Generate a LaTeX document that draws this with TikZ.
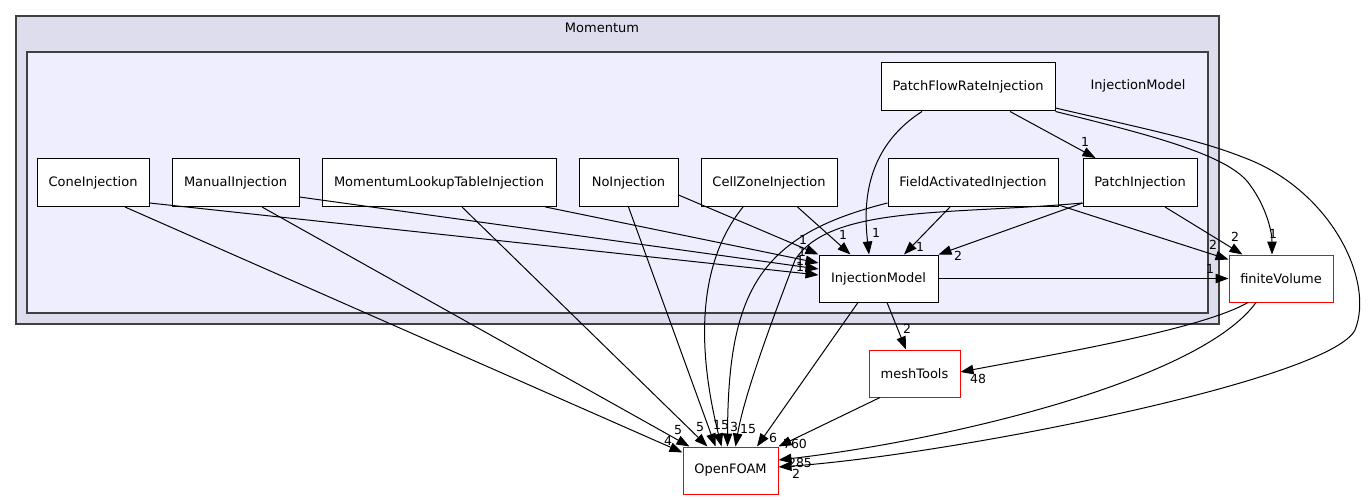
\documentclass[tikz,border=0pt]{standalone}
\usepackage{fontspec}
\setmainfont{DejaVu Sans}
\usetikzlibrary{arrows.meta, positioning, calc}
\definecolor{clusterOuter}{HTML}{DDDDEE}
\definecolor{clusterInner}{HTML}{EEEEFF}
\definecolor{clusterLine}{HTML}{404040}

\begin{document}
\begin{tikzpicture}[
  x=1pt, y=-1pt,
  every node/.style={font=\fontsize{13}{15}\selectfont},
  dirbox/.style={draw=black, line width=1pt, fill=white,
    minimum height=48pt, inner sep=0pt},
  extbox/.style={draw=red, line width=1pt, fill=white,
    minimum height=47pt, inner sep=0pt},
  dep/.style={-{Triangle[length=13pt, width=9.5pt]}, line width=1pt, black},
  num/.style={font=\fontsize{12.5}{14}\selectfont, inner sep=0pt},
]
  \useasboundingbox (0,0) rectangle (1368,500);

  % clusters
  \draw[draw=clusterLine, line width=1.3pt, fill=clusterOuter] (16,16) rectangle (1219,324);
  \draw[draw=clusterLine, line width=1.3pt, fill=clusterInner] (27,52) rectangle (1208,313);
  \node (momentum) at (602,28) {Momentum};
  \node (injdir) at (1138,86) {InjectionModel};

  % directories
  \node[dirbox, minimum width=174pt] (pfr)      at (968,87)    {PatchFlowRateInjection};
  \node[dirbox, minimum width=112pt] (cone)     at (93,182.5)  {ConeInjection};
  \node[dirbox, minimum width=127pt] (manual)   at (235.5,182.5) {ManualInjection};
  \node[dirbox, minimum width=234pt] (mlt)      at (439,182.5) {MomentumLookupTableInjection};
  \node[dirbox, minimum width=99pt]  (noinj)    at (628.5,182.5) {NoInjection};
  \node[dirbox, minimum width=136pt] (cellz)    at (769,182.5) {CellZoneInjection};
  \node[dirbox, minimum width=170pt] (fieldact) at (973,182.5) {FieldActivatedInjection};
  \node[dirbox, minimum width=114pt] (patchinj) at (1140,182.5) {PatchInjection};
  \node[dirbox, minimum width=119pt, minimum height=47pt] (injm) at (878.5,278.5) {InjectionModel};

  \node[extbox, minimum width=104pt] (fv)    at (1281,278.5)  {finiteVolume};
  \node[extbox, minimum width=91pt]  (mesh)  at (914.5,373.5) {meshTools};
  \node[extbox, minimum width=95pt]  (ofoam) at (730.5,470.5) {OpenFOAM};

  % into InjectionModel
  \draw[dep] ([yshift=-20.5pt]cone.east) -- ([yshift=3.5pt]injm.west);
  \draw[dep] ([yshift=-14.5pt]manual.east) -- ([yshift=9.5pt]injm.west);
  \draw[dep] ([xshift=-11pt]mlt.south east) -- ([yshift=15.5pt]injm.west);
  \draw[dep] ([yshift=-12.5pt]noinj.east) -- (injm.north west);
  \draw[dep] ([xshift=-40pt]cellz.south east) -- ([xshift=32pt]injm.north west);
  \draw[dep] ([xshift=-46pt]pfr.south) .. controls (862,150) and (864,210) .. ([xshift=-9.5pt]injm.north);
  \draw[dep] ([xshift=-23pt]fieldact.south) -- ([xshift=25.5pt]injm.north);
  \draw[dep] ([yshift=4pt]patchinj.south west) -- (injm.north east);
  \node[num] (lc1) at (800,267) {1};
  \node[num] (lm1) at (800,261) {1};
  \node[num] (lt1) at (802,252) {1};
  \node[num] (ln1) at (803,240) {1};
  \node[num] (lz1) at (843,235) {1};
  \node[num] (lp1) at (876,233) {1};
  \node[num] (lf1) at (920,247) {1};
  \node[num] (li2) at (958,256) {2};

  % PatchFlowRateInjection
  \draw[dep] ([xshift=42pt]pfr.south) -- ([xshift=13pt]patchinj.north west);
  \draw[dep] (pfr.south east) .. controls (1150,135) and (1230,155) .. (1250,185)
    .. controls (1265,205) and (1272,230) .. ([xshift=-9pt]fv.north);
  \draw[dep] ([yshift=-21pt]pfr.east) .. controls (1150,130) and (1200,140) .. (1245,158)
    .. controls (1330,190) and (1375,280) .. (1355,330)
    .. controls (1330,380) and (950,455) .. ([yshift=3.5pt]ofoam.east);
  \node[num] (lpp) at (1085,142) {1};
  \node[num] (lpf) at (1273,234) {1};

  % to finiteVolume and meshTools
  \draw[dep] (injm.east) -- (fv.west);
  \draw[dep] ([yshift=2pt]fieldact.south east) -- ([yshift=-5pt]fv.north west);
  \draw[dep] ([xshift=25pt]patchinj.south) -- ([xshift=14pt]fv.north west);
  \draw[dep] ([xshift=8.5pt]injm.south) -- ([xshift=-8.5pt]mesh.north);
  \draw[dep] ([xshift=-33pt]fv.south) .. controls (1200,330) and (1050,355) .. ([yshift=1.5pt]mesh.east);
  \node[num] (lif) at (1210,269) {1};
  \node[num] (lff) at (1213,245) {2};
  \node[num] (lpv) at (1235,237) {2};
  \node[num] (lim) at (907,329) {2};
  \node[num] (lfm) at (978,379) {48};

  % into OpenFOAM
  \draw[dep] ([xshift=32pt]cone.south) -- ([yshift=-6pt]ofoam.north west);
  \draw[dep] ([xshift=26.5pt]manual.south) -- ([xshift=7pt]ofoam.north west);
  \draw[dep] ([xshift=23pt]mlt.south) -- ([xshift=25pt]ofoam.north west);
  \draw[dep] (noinj.south) -- ([xshift=33pt]ofoam.north west);
  \draw[dep] ([xshift=-26pt]cellz.south) .. controls (700,260) and (695,340) .. ([xshift=39pt]ofoam.north west);
  \draw[dep] ([yshift=4pt]fieldact.south west) .. controls (760,235) and (728,290) .. ([xshift=45pt]ofoam.north west);
  \draw[dep] ([yshift=4pt]patchinj.south west) .. controls (950,215) and (830,205) .. (795,260)
    .. controls (780,300) and (745,390) .. ([xshift=53pt]ofoam.north west);
  \draw[dep] ([xshift=-20.5pt]injm.south) -- ([xshift=26.5pt]ofoam.north);
  \draw[dep] ([xshift=-34.5pt]mesh.south) -- (ofoam.north east);
  \draw[dep] ([xshift=-25pt]fv.south) .. controls (1200,380) and (950,440) .. ([yshift=10.5pt]ofoam.east);
  \node[num] (lco) at (668,441) {4};
  \node[num] (lmo) at (678,430) {5};
  \node[num] (lto) at (700,427) {5};
  \node[num] (lno) at (717,425) {1};
  \node[num] (lzo) at (725,425) {5};
  \node[num] (lfo) at (734,427) {3};
  \node[num] (lpo) at (748,429) {15};
  \node[num] (lio) at (773,438) {6};
  \node[num] (lmf) at (795,444) {760};
  \node[num] (lvo) at (800,463) {285};
  \node[num] (lpg) at (796,474) {2};
\end{tikzpicture}
\end{document}
